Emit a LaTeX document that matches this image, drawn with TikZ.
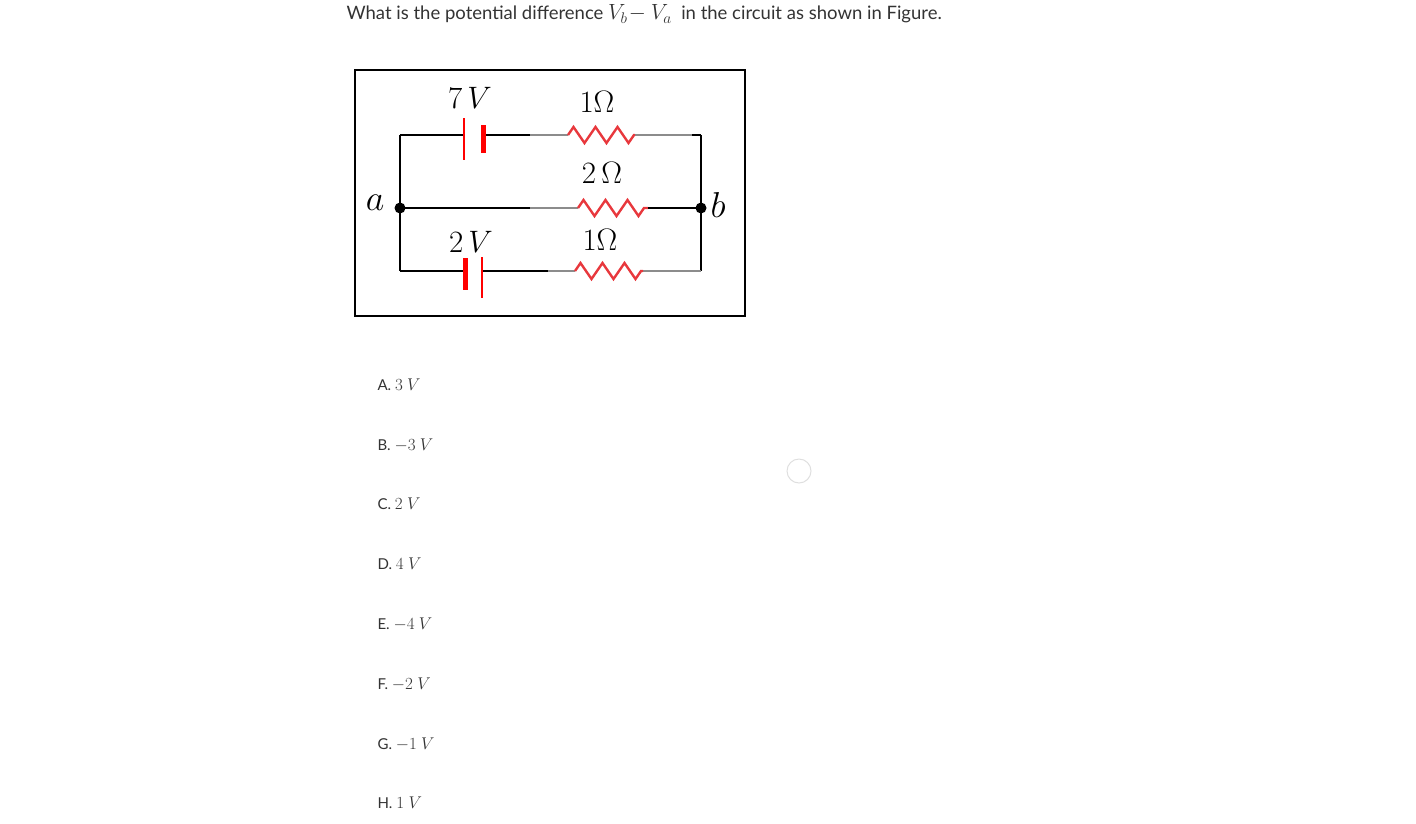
\RequirePackage{fix-cm}
\documentclass[tikz,border=0pt]{standalone}
\usepackage{fontspec}
\setmainfont{Lato}
\usetikzlibrary{decorations.pathmorphing}
\definecolor{txt}{HTML}{333333}
\definecolor{rr}{HTML}{E8383D}
\definecolor{gw}{HTML}{8C8C8C}
\newcommand{\mth}[1]{{\fontsize{17}{17}\selectfont$#1$}}
\begin{document}
\begin{tikzpicture}[x=1pt,y=-1pt,
  wire/.style={line width=2pt,black},
  gwire/.style={line width=1.4pt,gw},
  res/.style={rr,line width=2.4pt,decorate,decoration={zigzag,segment length=22pt,amplitude=8pt}},
  plate/.style={red,line width=2.5pt},
  tplate/.style={red,line width=5pt},
  lbl/.style={font=\fontsize{31}{31}\selectfont},
  opt/.style={anchor=west,text=txt,font=\fontsize{15}{15}\selectfont}]
\useasboundingbox (0,0) rectangle (1416,823);
\node[anchor=west,text=txt,font=\fontsize{18.5}{18.5}\selectfont] (q) at (343,14) {What is the potential difference {\fontsize{22}{22}\selectfont$V_b\!-V_a$} \ in the circuit as shown in Figure.};
\draw[line width=1.5pt] (355,70) rectangle (745,316);
\coordinate (a) at (400,208); \coordinate (b) at (701,208);
\coordinate (tl) at (400,135); \coordinate (tr) at (701,135);
\coordinate (bl) at (400,271); \coordinate (br) at (701,271);
\draw[wire] (tl) -- (bl); \draw[wire] (tr) -- (br);
% top branch
\draw[wire] (tl) -- (463,135); \draw[wire] (483,135) -- (530,135);
\draw[gwire] (530,135) -- (568,135); \draw[gwire] (635,135) -- (692,135);
\draw[wire] (692,135) -- (tr);
\draw[plate] (464,118) -- (464,160); \draw[tplate] (483,125) -- (483,153);
\draw[res] (568,135) -- (635,135);
% middle branch
\draw[wire] (a) -- (530,208); \draw[gwire] (530,208) -- (578,208);
\draw[res] (578,208) -- (648,208); \draw[wire] (648,208) -- (b);
% bottom branch
\draw[wire] (bl) -- (463,271); \draw[wire] (482,271) -- (548,271);
\draw[gwire] (548,271) -- (575,271); \draw[gwire] (643,271) -- (br);
\draw[tplate] (465,258) -- (465,290); \draw[plate] (482,257) -- (482,298);
\draw[res] (575,271) -- (643,271);
\fill (a) circle (5.5); \fill (b) circle (5.5);
\node[lbl] (l7) at (470,98) {$7\,V$};
\node[lbl] (r1) at (597,102) {$1\Omega$};
\node[lbl] (r2) at (602,173) {$2\,\Omega$};
\node[lbl] (l2) at (471,242) {$2\,V$};
\node[lbl] (r3) at (600,240) {$1\Omega$};
\node[font=\fontsize{36}{36}\selectfont] (la) at (375,203) {$a$};
\node[font=\fontsize{36}{36}\selectfont] (lb) at (718,205) {$b$};
\node[opt] (A) at (374,385) {A. \mth{3\ V}};
\node[opt] (B) at (374,445) {B. \mth{-3\ V}};
\node[opt] (C) at (374,504) {C. \mth{2\ V}};
\node[opt] (D) at (374,564) {D. \mth{4\ V}};
\node[opt] (E) at (374,624) {E. \mth{-4\ V}};
\node[opt] (F) at (374,684) {F. \mth{-2\ V}};
\node[opt] (G) at (374,744) {G. \mth{-1\ V}};
\node[opt] (H) at (374,803) {H. \mth{1\ V}};
\draw[gray!25,line width=1pt] (799,471) circle (12);
\end{tikzpicture}
\end{document}
